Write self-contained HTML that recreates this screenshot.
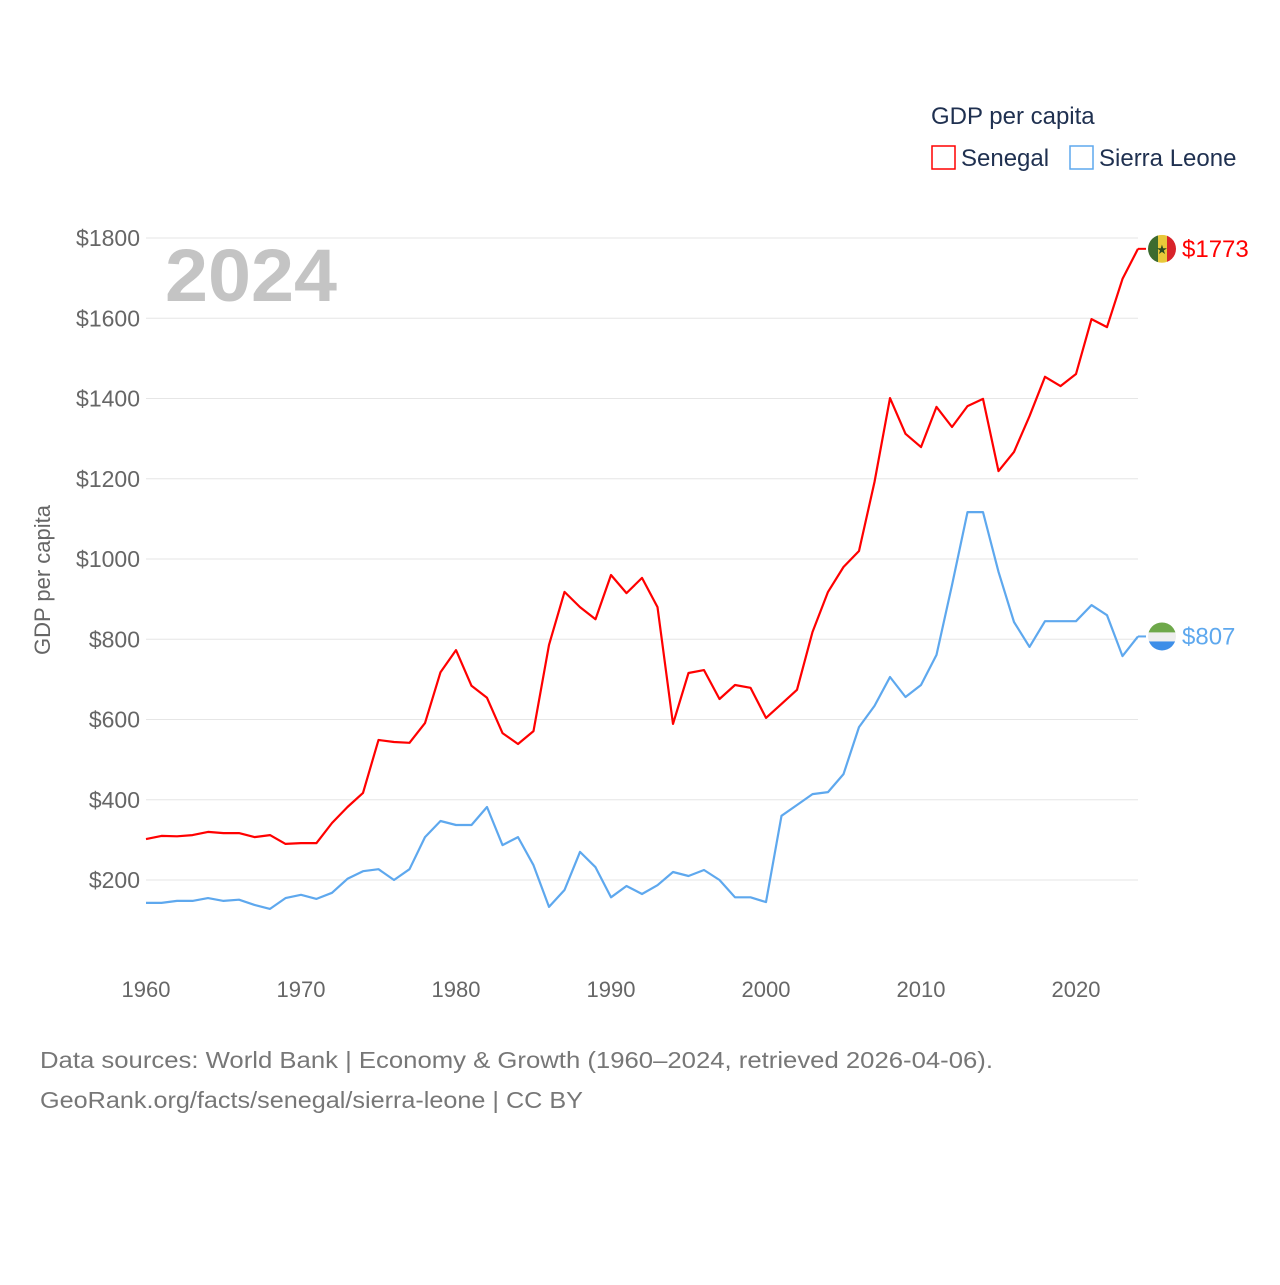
<!DOCTYPE html>
<html><head><meta charset="utf-8"><style>
body{margin:0;background:#fff;width:1280px;height:1280px;overflow:hidden;font-family:"Liberation Sans",sans-serif}
svg text{font-family:"Liberation Sans",sans-serif}
</style></head><body>
<svg id="chart" width="1280" height="1280" viewBox="0 0 1280 1280">
<g id="grid"></g>
<g id="yticks"></g>
<g id="xticks"></g>
<text transform="translate(50,580) rotate(-90)" text-anchor="middle" font-size="22" fill="#666">GDP per capita</text>
<text x="165" y="301" font-size="74" font-weight="bold" fill="#c4c4c4" textLength="172" lengthAdjust="spacingAndGlyphs">2024</text>
<g id="series"></g>
<g>
<text x="931" y="124" font-size="24" fill="#1f3050">GDP per capita</text>
<g><rect x="932" y="146" width="23" height="23" fill="none" stroke="#ff0000" stroke-width="1.5"/><text x="961" y="166" font-size="24" fill="#1f3050">Senegal</text></g>
<g><rect x="1070" y="146" width="23" height="23" fill="none" stroke="#5ea8ee" stroke-width="1.5"/><text x="1099" y="166" font-size="24" fill="#1f3050">Sierra Leone</text></g>
</g>
<text x="40" y="1068" font-size="23" fill="#777" textLength="953" lengthAdjust="spacingAndGlyphs">Data sources: World Bank | Economy &amp; Growth (1960–2024, retrieved 2026-04-06).</text>
<text x="40" y="1108" font-size="23" fill="#777" textLength="543" lengthAdjust="spacingAndGlyphs">GeoRank.org/facts/senegal/sierra-leone | CC BY</text>
</svg>
<script>
const years=[];for(let y=1960;y<=2024;y++)years.push(y);
const senegal=[302,310,309,312,320,317,317,307,312,290,292,292,342,382,417,549,544,542,591,718,773,684,654,566,539,571,786,918,880,850,960,915,953,880,589,716,723,651,686,679,604,639,674,818,918,980,1020,1192,1401,1312,1279,1379,1329,1381,1399,1219,1267,1356,1454,1431,1461,1598,1578,1698,1773];
const sierraLeone=[143,143,148,148,155,148,151,138,128,155,163,153,168,203,222,227,200,227,307,347,337,337,382,287,307,237,133,175,270,232,157,185,165,187,220,210,225,200,157,157,145,360,387,414,419,464,581,634,706,656,686,761,935,1117,1117,968,843,781,845,845,845,885,860,758,807];
const yTicks=[200,400,600,800,1000,1200,1400,1600,1800];
const xTicks=[1960,1970,1980,1990,2000,2010,2020];
const NS="http://www.w3.org/2000/svg";
const X=y=>146+(y-1960)*15.5;
const Y=v=>238+(1800-v)*0.40125;
function mk(t,a,p){const e=document.createElementNS(NS,t);for(const k in a)e.setAttribute(k,a[k]);p.appendChild(e);return e;}
const grid=document.getElementById('grid'),yt=document.getElementById('yticks'),xt=document.getElementById('xticks'),ser=document.getElementById('series');
yTicks.forEach(v=>{
const l=mk('line',{x1:146,x2:1138,y1:Y(v),y2:Y(v),stroke:'#e6e6e6','stroke-width':1},grid);


const t=mk('text',{x:140,y:Y(v)+8,'text-anchor':'end','font-size':23,fill:'#666'},yt);
t.textContent='$'+v;


});
xTicks.forEach(v=>{
const t=mk('text',{x:X(v),y:997,'text-anchor':'middle','font-size':22,fill:'#666'},xt);
t.textContent=v;


});
function line(data,color,name,flag){
const d=data.map((v,i)=>(i?'L':'M')+X(years[i]).toFixed(1)+','+Y(v).toFixed(1)).join('');
const p=mk('path',{d:d,fill:'none',stroke:color,'stroke-width':2.2,'stroke-linejoin':'round'},ser);


const last=data[data.length-1],lx=X(2024),ly=Y(last);
const s=mk('line',{x1:lx,x2:lx+8,y1:ly,y2:ly,stroke:color,'stroke-width':2},ser);


const g=mk('g',{},ser);


const cx=lx+24;
mk('clipPath',{id:'c'+name},g);
mk('circle',{cx:cx,cy:ly,r:14},document.getElementById('c'+name));
const gg=mk('g',{'clip-path':'url(#c'+name+')'},g);
if(flag==='sn'){
mk('rect',{x:cx-14,y:ly-14,width:10,height:28,fill:'#3d6b2f'},gg);
mk('rect',{x:cx-4,y:ly-14,width:9,height:28,fill:'#e8c83a'},gg);
mk('rect',{x:cx+5,y:ly-14,width:10,height:28,fill:'#d8232a'},gg);
const st=mk('text',{x:cx,y:ly+5,'text-anchor':'middle','font-size':13,fill:'#2a4a20'},gg);st.textContent='★';
}else{
mk('rect',{x:cx-14,y:ly-14,width:28,height:10,fill:'#6ea84a'},gg);
mk('rect',{x:cx-14,y:ly-4,width:28,height:9,fill:'#eee'},gg);
mk('rect',{x:cx-14,y:ly+5,width:28,height:10,fill:'#3d8ee8'},gg);
}
const t=mk('text',{x:cx+20,y:ly+8,'font-size':24,fill:color},ser);
t.textContent='$'+last;


}
line(sierraLeone,'#5ea8ee','sierra-leone','sl');
line(senegal,'#ff0000','senegal','sn');
</script>
</body></html>
